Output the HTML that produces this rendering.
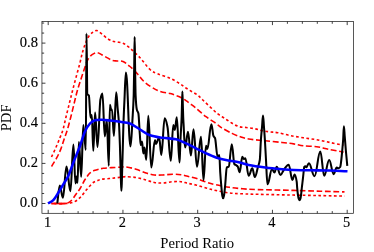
<!DOCTYPE html>
<html><head><meta charset="utf-8"><style>
html,body{margin:0;padding:0;background:#fff;}
svg{display:block;font-family:"Liberation Serif",serif;will-change:transform;opacity:0.999;}
</style></head><body>
<svg width="374" height="252" viewBox="0 0 374 252">
<rect width="374" height="252" fill="#fff"/>
<g fill="none" stroke-linecap="butt" stroke-linejoin="round">
<path d="M51.50 203.50 C53.75 203.50 61.37 203.70 65.00 203.50 C68.63 203.30 70.80 203.27 73.30 202.30 C75.80 201.33 77.77 199.83 80.00 197.70 C82.23 195.57 84.48 192.03 86.70 189.50 C88.92 186.97 91.37 184.03 93.30 182.50 C95.23 180.97 96.90 180.85 98.30 180.30 C99.70 179.75 99.47 179.53 101.70 179.20 C103.93 178.87 108.10 178.68 111.70 178.30 C115.30 177.92 120.92 177.17 123.30 176.90 C125.68 176.63 123.88 176.60 126.00 176.70 C128.12 176.80 132.67 176.95 136.00 177.50 C139.33 178.05 142.95 179.17 146.00 180.00 C149.05 180.83 151.52 182.00 154.30 182.50 C157.08 183.00 159.63 183.13 162.70 183.00 C165.77 182.87 169.65 181.92 172.70 181.70 C175.75 181.48 178.50 181.43 181.00 181.70 C183.50 181.97 185.20 182.75 187.70 183.30 C190.20 183.85 192.95 184.22 196.00 185.00 C199.05 185.78 202.67 187.08 206.00 188.00 C209.33 188.92 212.12 189.67 216.00 190.50 C219.88 191.33 224.85 192.45 229.30 193.00 C233.75 193.55 237.97 193.58 242.70 193.80 C247.43 194.02 249.82 194.10 257.70 194.30 C265.58 194.50 279.62 194.78 290.00 195.00 C300.38 195.22 310.92 195.42 320.00 195.60 C329.08 195.78 340.42 196.02 344.50 196.10" stroke="#f00" stroke-width="1.6" stroke-dasharray="2.7 2.5" stroke-dashoffset="2.5"/>
<path d="M51.50 203.50 C53.75 203.50 61.78 203.92 65.00 203.50 C68.22 203.08 69.00 202.50 70.80 201.00 C72.60 199.50 74.20 196.67 75.80 194.50 C77.40 192.33 78.92 190.42 80.40 188.00 C81.88 185.58 83.52 182.00 84.70 180.00 C85.88 178.00 86.60 177.18 87.50 176.00 C88.40 174.82 88.85 173.85 90.10 172.90 C91.35 171.95 92.80 171.07 95.00 170.30 C97.20 169.53 99.13 168.82 103.30 168.30 C107.47 167.78 116.22 167.42 120.00 167.20 C123.78 166.98 123.33 166.67 126.00 167.00 C128.67 167.33 132.67 168.20 136.00 169.20 C139.33 170.20 142.95 172.03 146.00 173.00 C149.05 173.97 151.52 174.67 154.30 175.00 C157.08 175.33 159.63 175.13 162.70 175.00 C165.77 174.87 169.65 174.25 172.70 174.20 C175.75 174.15 178.50 174.35 181.00 174.70 C183.50 175.05 185.20 175.70 187.70 176.30 C190.20 176.90 192.95 177.35 196.00 178.30 C199.05 179.25 202.67 180.92 206.00 182.00 C209.33 183.08 212.12 183.92 216.00 184.80 C219.88 185.68 224.85 186.63 229.30 187.30 C233.75 187.97 237.97 188.42 242.70 188.80 C247.43 189.18 249.82 189.35 257.70 189.60 C265.58 189.85 279.62 190.03 290.00 190.30 C300.38 190.57 310.92 190.93 320.00 191.20 C329.08 191.47 340.42 191.78 344.50 191.90" stroke="#f00" stroke-width="1.6" stroke-dasharray="5.7 2.7" stroke-dashoffset="1"/>
<path d="M51.3 203.55 H65.5" stroke="#f00" stroke-width="1.6"/>
<path d="M51.50 157.00 C52.25 155.38 54.58 150.53 56.00 147.30 C57.42 144.07 58.82 140.60 60.00 137.60 C61.18 134.60 62.10 132.73 63.10 129.30 C64.10 125.87 64.93 121.42 66.00 117.00 C67.07 112.58 68.42 107.17 69.50 102.80 C70.58 98.43 71.42 95.02 72.50 90.80 C73.58 86.58 74.78 82.05 76.00 77.50 C77.22 72.95 78.72 67.70 79.80 63.50 C80.88 59.30 81.52 55.77 82.50 52.30 C83.48 48.83 84.63 45.38 85.70 42.70 C86.77 40.02 87.70 37.95 88.90 36.20 C90.10 34.45 91.57 33.13 92.90 32.20 C94.23 31.27 95.43 30.33 96.90 30.60 C98.37 30.87 99.95 32.47 101.70 33.80 C103.45 35.13 105.65 37.40 107.40 38.60 C109.15 39.80 110.60 40.43 112.20 41.00 C113.80 41.57 115.20 41.63 117.00 42.00 C118.80 42.37 120.83 42.18 123.00 43.20 C125.17 44.22 127.17 45.68 130.00 48.10 C132.83 50.52 136.67 54.13 140.00 57.70 C143.33 61.27 147.05 66.82 150.00 69.50 C152.95 72.18 154.32 72.33 157.70 73.80 C161.08 75.27 166.53 76.60 170.30 78.30 C174.07 80.00 177.68 82.38 180.30 84.00 C182.92 85.62 184.05 86.72 186.00 88.00 C187.95 89.28 190.00 90.47 192.00 91.70 C194.00 92.93 196.20 94.02 198.00 95.40 C199.80 96.78 200.80 98.10 202.80 100.00 C204.80 101.90 207.60 104.57 210.00 106.80 C212.40 109.03 214.80 111.50 217.20 113.40 C219.60 115.30 221.98 116.60 224.40 118.20 C226.82 119.80 229.28 121.60 231.70 123.00 C234.12 124.40 236.50 125.85 238.90 126.60 C241.30 127.35 243.50 127.15 246.10 127.50 C248.70 127.85 251.85 128.18 254.50 128.70 C257.15 129.22 259.42 130.07 262.00 130.60 C264.58 131.13 267.37 131.55 270.00 131.90 C272.63 132.25 274.47 132.10 277.80 132.70 C281.13 133.30 285.75 134.65 290.00 135.50 C294.25 136.35 298.85 137.10 303.30 137.80 C307.75 138.50 312.25 138.92 316.70 139.70 C321.15 140.48 325.53 141.57 330.00 142.50 C334.47 143.43 341.25 144.83 343.50 145.30" stroke="#f00" stroke-width="1.6" stroke-dasharray="2.7 2.5"/>
<path d="M51.50 166.50 C52.38 165.03 55.23 160.63 56.80 157.70 C58.37 154.77 59.68 151.98 60.90 148.90 C62.12 145.82 63.00 142.47 64.10 139.20 C65.20 135.93 66.35 133.13 67.50 129.30 C68.65 125.47 69.87 120.62 71.00 116.20 C72.13 111.78 73.25 107.03 74.30 102.80 C75.35 98.57 76.10 95.02 77.30 90.80 C78.50 86.58 79.97 82.18 81.50 77.50 C83.03 72.82 85.27 65.97 86.50 62.70 C87.73 59.43 87.97 59.23 88.90 57.90 C89.83 56.57 90.77 55.58 92.10 54.70 C93.43 53.82 95.30 52.60 96.90 52.60 C98.50 52.60 99.95 53.82 101.70 54.70 C103.45 55.58 105.65 56.97 107.40 57.90 C109.15 58.83 110.60 59.78 112.20 60.30 C113.80 60.82 115.20 60.80 117.00 61.00 C118.80 61.20 120.83 60.58 123.00 61.50 C125.17 62.42 127.57 64.42 130.00 66.50 C132.43 68.58 135.08 71.33 137.60 74.00 C140.12 76.67 141.75 79.75 145.10 82.50 C148.45 85.25 153.50 88.65 157.70 90.50 C161.90 92.35 167.25 92.77 170.30 93.60 C173.35 94.43 174.38 94.93 176.00 95.50 C177.62 96.07 178.33 96.15 180.00 97.00 C181.67 97.85 184.33 99.50 186.00 100.60 C187.67 101.70 188.33 102.33 190.00 103.60 C191.67 104.87 193.33 106.02 196.00 108.20 C198.67 110.38 202.67 114.18 206.00 116.70 C209.33 119.22 213.50 121.52 216.00 123.30 C218.50 125.08 218.33 125.72 221.00 127.40 C223.67 129.08 228.78 131.85 232.00 133.40 C235.22 134.95 237.52 135.77 240.30 136.70 C243.08 137.63 244.53 138.32 248.70 139.00 C252.87 139.68 259.75 140.22 265.30 140.80 C270.85 141.38 277.27 141.98 282.00 142.50 C286.73 143.02 290.15 143.35 293.70 143.90 C297.25 144.45 299.47 145.33 303.30 145.80 C307.13 146.27 312.53 146.13 316.70 146.70 C320.87 147.27 324.13 148.35 328.30 149.20 C332.47 150.05 339.17 151.30 341.70 151.80 C344.23 152.30 343.20 152.13 343.50 152.20" stroke="#f00" stroke-width="1.6" stroke-dasharray="5.7 2.7"/>
<path d="M57.30 203.30 C58.13 197.37 58.80 185.50 59.80 185.50 C61.04 185.50 61.66 197.70 62.90 197.70 C64.34 197.70 65.06 166.50 66.50 166.50 C68.06 166.50 68.84 191.20 70.40 191.20 C71.60 191.20 72.20 144.50 73.40 144.50 C74.24 144.50 74.66 183.40 75.50 183.40 C75.94 183.40 76.16 176.50 76.60 176.50 C76.96 176.50 77.14 182.80 77.50 182.80 C78.06 182.80 78.34 142.00 78.90 142.00 C79.82 142.00 80.28 176.80 81.20 176.80 C82.04 176.80 82.46 125.00 83.30 125.00 C84.30 125.00 84.80 150.00 85.80 150.00 C86.08 150.00 86.22 33.60 86.50 33.60 C86.82 33.60 87.03 93.45 87.30 94.00 C87.83 95.11 88.37 94.58 88.90 95.50 C89.47 96.48 89.92 117.70 90.60 117.70 C91.08 117.70 91.32 115.00 91.80 115.00 C92.40 115.00 92.70 150.80 93.30 150.80 C94.02 150.80 94.38 112.50 95.10 112.50 C96.06 112.50 96.54 147.00 97.50 147.00 C98.66 147.00 99.43 104.14 100.40 99.50 C101.07 96.30 101.60 93.60 102.40 93.60 C103.36 93.60 103.84 136.50 104.80 136.50 C105.60 136.50 106.00 120.00 106.80 120.00 C107.60 120.00 108.00 165.80 108.80 165.80 C109.24 165.80 109.46 104.70 109.90 104.70 C110.42 104.70 110.68 110.00 111.20 110.00 C111.52 110.00 111.68 109.40 112.00 109.40 C112.76 109.40 113.14 135.90 113.90 135.90 C114.82 135.90 115.28 92.20 116.20 92.20 C116.76 92.20 117.13 102.70 117.60 108.00 C118.07 113.30 118.53 116.66 119.00 124.00 C119.30 128.72 119.60 136.67 119.90 145.00 C120.10 150.56 120.30 157.91 120.50 165.00 C120.63 169.72 120.77 176.31 120.90 180.00 C121.07 184.61 121.20 190.80 121.40 190.80 C121.60 190.80 121.73 184.61 121.90 180.00 C122.03 176.31 122.17 169.76 122.30 165.00 C122.47 159.05 122.63 154.00 122.80 148.00 C123.00 140.81 123.20 130.95 123.40 125.00 C123.77 114.10 124.13 107.06 124.50 99.30 C124.97 89.42 125.34 72.40 125.90 72.40 C127.74 72.40 128.66 146.50 130.50 146.50 C131.30 146.50 131.83 130.03 132.50 119.00 C132.90 112.38 133.30 107.55 133.70 95.00 C133.88 89.25 134.07 75.32 134.25 64.00 C134.38 55.77 134.49 37.00 134.65 37.00 C134.81 37.00 134.92 55.77 135.05 64.00 C135.23 75.32 135.42 91.03 135.60 95.00 C136.00 103.65 136.40 107.79 136.80 109.50 C137.33 111.78 137.87 111.19 138.40 113.50 C138.87 115.52 139.33 128.18 139.80 134.00 C140.13 138.15 140.40 145.00 140.80 145.00 C141.28 145.00 141.52 141.50 142.00 141.50 C142.56 141.50 142.84 153.50 143.40 153.50 C143.84 153.50 144.06 147.50 144.50 147.50 C145.22 147.50 145.58 159.80 146.30 159.80 C147.10 159.80 147.50 115.80 148.30 115.80 C149.50 115.80 150.10 167.50 151.30 167.50 C152.78 167.50 153.52 140.00 155.00 140.00 C155.32 140.00 155.48 144.00 155.80 144.00 C157.16 144.00 157.84 137.50 159.20 137.50 C160.04 137.50 160.46 155.00 161.30 155.00 C162.66 155.00 163.34 118.30 164.70 118.30 C165.82 118.30 166.57 122.61 167.50 127.00 C168.60 132.17 169.48 160.80 170.80 160.80 C171.80 160.80 172.30 125.00 173.30 125.00 C173.90 125.00 174.20 130.00 174.80 130.00 C175.60 130.00 176.00 117.30 176.80 117.30 C177.88 117.30 178.42 162.50 179.50 162.50 C179.74 162.50 179.90 154.64 180.10 150.00 C180.27 146.13 180.43 140.51 180.60 137.00 C180.80 132.79 181.00 130.34 181.20 126.50 C181.35 123.62 181.50 121.08 181.65 117.00 C181.77 113.82 181.88 107.97 182.00 104.00 C182.13 99.47 182.24 91.50 182.40 91.50 C182.56 91.50 182.67 99.75 182.80 104.00 C182.93 108.25 183.07 113.77 183.20 117.00 C183.37 121.04 183.53 123.17 183.70 126.50 C183.87 129.82 184.03 134.58 184.20 137.00 C184.53 141.85 184.80 147.50 185.20 147.50 C186.32 147.50 186.88 131.70 188.00 131.70 C189.16 131.70 189.74 155.50 190.90 155.50 C191.94 155.50 192.46 129.20 193.50 129.20 C194.90 129.20 195.60 166.70 197.00 166.70 C198.60 166.70 199.40 136.70 201.00 136.70 C202.00 136.70 202.50 180.00 203.50 180.00 C204.50 180.00 205.00 145.80 206.00 145.80 C206.52 145.80 206.78 149.00 207.30 149.00 C208.94 149.00 209.76 124.20 211.40 124.20 C212.20 124.20 212.73 134.35 213.40 135.80 C213.93 136.96 214.47 136.84 215.00 138.00 C215.90 139.96 216.62 157.00 217.70 157.00 C218.34 157.00 218.66 155.00 219.30 155.00 C219.66 155.00 219.90 167.44 220.20 172.00 C220.60 178.08 221.00 182.59 221.40 187.00 C221.67 189.94 221.93 193.56 222.20 195.00 C222.50 196.62 222.74 198.30 223.10 198.30 C223.50 198.30 223.77 196.61 224.10 195.00 C224.43 193.39 224.77 189.26 225.10 186.00 C225.67 180.46 226.23 168.06 226.80 167.50 C227.47 166.85 228.13 167.09 228.80 166.50 C229.80 165.61 230.60 144.20 231.80 144.20 C232.80 144.20 233.47 163.00 234.30 164.00 C235.00 164.84 235.70 164.87 236.40 165.40 C236.87 165.75 237.33 166.00 237.80 166.60 C238.43 167.42 238.94 172.20 239.70 172.20 C240.74 172.20 241.26 156.70 242.30 156.70 C242.86 156.70 243.14 159.00 243.70 159.00 C244.34 159.00 244.66 158.30 245.30 158.30 C246.66 158.30 247.34 175.80 248.70 175.80 C250.14 175.80 250.86 168.30 252.30 168.30 C253.30 168.30 253.80 177.00 254.80 177.00 C256.00 177.00 256.80 170.95 257.80 167.50 C258.47 165.20 259.13 164.43 259.80 160.00 C260.17 157.57 260.53 145.23 260.90 140.00 C261.30 134.30 261.70 130.67 262.10 126.00 C262.40 122.50 262.64 115.50 263.00 115.50 C263.36 115.50 263.60 122.19 263.90 126.00 C264.23 130.24 264.57 134.74 264.90 140.00 C265.27 145.79 265.63 153.70 266.00 160.00 C266.50 168.59 266.90 184.30 267.50 184.30 C269.30 184.30 270.20 169.20 272.00 169.20 C273.00 169.20 273.50 172.50 274.50 172.50 C275.38 172.50 275.82 166.70 276.70 166.70 C278.22 166.70 278.98 175.00 280.50 175.00 C281.78 175.00 282.63 171.37 283.70 170.00 C285.37 167.86 286.70 164.70 288.70 164.70 C290.18 164.70 290.92 180.00 292.40 180.00 C293.28 180.00 293.72 174.50 294.60 174.50 C295.44 174.50 296.00 177.42 296.70 181.70 C296.87 182.72 297.03 186.20 297.20 188.00 C297.43 190.52 297.67 192.95 297.90 194.50 C298.17 196.27 298.43 197.89 298.70 198.60 C299.00 199.40 299.24 200.20 299.60 200.20 C299.92 200.20 300.13 199.40 300.40 198.60 C300.63 197.90 300.87 196.18 301.10 194.50 C301.33 192.82 301.57 190.05 301.80 188.00 C302.00 186.25 302.20 184.71 302.40 183.00 C302.67 180.73 302.93 178.26 303.20 176.00 C303.57 172.89 303.93 167.47 304.30 167.00 C304.63 166.58 304.90 166.30 305.30 166.30 C305.70 166.30 305.90 167.30 306.30 167.30 C307.34 167.30 307.86 163.20 308.90 163.20 C311.14 163.20 312.26 176.20 314.50 176.20 C316.82 176.20 317.98 151.50 320.30 151.50 C321.86 151.50 322.64 175.80 324.20 175.80 C326.20 175.80 327.20 160.00 329.20 160.00 C331.00 160.00 331.90 174.20 333.70 174.20 C334.90 174.20 335.50 167.50 336.70 167.50 C337.34 167.50 337.66 168.30 338.30 168.30 C339.06 168.30 339.57 167.84 340.20 167.00 C340.57 166.51 340.93 162.87 341.30 160.00 C341.60 157.65 341.90 154.27 342.20 151.00 C342.53 147.37 342.87 143.86 343.20 139.00 C343.43 135.60 343.62 126.40 343.90 126.40 C344.22 126.40 344.43 132.74 344.70 136.00 C345.10 140.89 345.50 146.41 345.90 151.00 C346.37 156.36 346.83 160.87 347.30 165.80" stroke="#000" stroke-width="2.05"/>
<path d="M48.00 203.30 C48.88 202.78 51.58 201.97 53.30 200.20 C55.02 198.43 56.63 195.35 58.30 192.70 C59.97 190.05 61.63 187.08 63.30 184.30 C64.97 181.52 66.52 179.88 68.30 176.00 C70.08 172.12 72.05 166.00 74.00 161.00 C75.95 156.00 78.17 150.92 80.00 146.00 C81.83 141.08 83.33 135.25 85.00 131.50 C86.67 127.75 88.33 125.37 90.00 123.50 C91.67 121.63 93.05 120.92 95.00 120.30 C96.95 119.68 99.20 119.77 101.70 119.80 C104.20 119.83 106.95 120.17 110.00 120.50 C113.05 120.83 116.67 121.30 120.00 121.80 C123.33 122.30 126.67 122.22 130.00 123.50 C133.33 124.78 136.67 127.53 140.00 129.50 C143.33 131.47 146.22 133.92 150.00 135.30 C153.78 136.68 158.37 137.13 162.70 137.80 C167.03 138.47 172.12 138.38 176.00 139.30 C179.88 140.22 182.67 141.80 186.00 143.30 C189.33 144.80 192.67 146.63 196.00 148.30 C199.33 149.97 202.67 151.77 206.00 153.30 C209.33 154.83 212.67 156.38 216.00 157.50 C219.33 158.62 222.38 159.25 226.00 160.00 C229.62 160.75 233.92 161.17 237.70 162.00 C241.48 162.83 244.10 164.08 248.70 165.00 C253.30 165.92 259.75 166.80 265.30 167.50 C270.85 168.20 277.27 168.78 282.00 169.20 C286.73 169.62 289.03 169.82 293.70 170.00 C298.37 170.18 303.95 170.20 310.00 170.30 C316.05 170.40 323.75 170.43 330.00 170.60 C336.25 170.77 344.58 171.18 347.50 171.30" stroke="#00f" stroke-width="2.55"/>
</g>
<rect x="41.95" y="21.60" width="311.55" height="191.70" fill="none" stroke="#111" stroke-width="0.7"/>
<path d="M48.20 213.30 v-3.50 M48.20 21.60 v3.50 M63.15 213.30 v-2.20 M63.15 21.60 v2.20 M78.10 213.30 v-2.20 M78.10 21.60 v2.20 M93.05 213.30 v-2.20 M93.05 21.60 v2.20 M108.00 213.30 v-2.20 M108.00 21.60 v2.20 M122.95 213.30 v-3.50 M122.95 21.60 v3.50 M137.90 213.30 v-2.20 M137.90 21.60 v2.20 M152.85 213.30 v-2.20 M152.85 21.60 v2.20 M167.80 213.30 v-2.20 M167.80 21.60 v2.20 M182.75 213.30 v-2.20 M182.75 21.60 v2.20 M197.70 213.30 v-3.50 M197.70 21.60 v3.50 M212.65 213.30 v-2.20 M212.65 21.60 v2.20 M227.60 213.30 v-2.20 M227.60 21.60 v2.20 M242.55 213.30 v-2.20 M242.55 21.60 v2.20 M257.50 213.30 v-2.20 M257.50 21.60 v2.20 M272.45 213.30 v-3.50 M272.45 21.60 v3.50 M287.40 213.30 v-2.20 M287.40 21.60 v2.20 M302.35 213.30 v-2.20 M302.35 21.60 v2.20 M317.30 213.30 v-2.20 M317.30 21.60 v2.20 M332.25 213.30 v-2.20 M332.25 21.60 v2.20 M347.20 213.30 v-3.50 M347.20 21.60 v3.50 M41.95 203.50 h3.50 M41.95 193.47 h2.20 M41.95 183.45 h2.20 M41.95 173.43 h2.20 M41.95 163.40 h3.50 M41.95 153.38 h2.20 M41.95 143.35 h2.20 M41.95 133.32 h2.20 M41.95 123.30 h3.50 M41.95 113.27 h2.20 M41.95 103.25 h2.20 M41.95 93.22 h2.20 M41.95 83.20 h3.50 M41.95 73.17 h2.20 M41.95 63.15 h2.20 M41.95 53.12 h2.20 M41.95 43.10 h3.50 M41.95 33.07 h2.20 M41.95 23.05 h2.20" stroke="#000" stroke-width="0.75" fill="none"/>
<g font-size="15.3px" fill="#000" stroke="#000" stroke-width="0.15"><text x="38" y="207.40" text-anchor="end" textLength="18.2" lengthAdjust="spacingAndGlyphs">0.0</text><text x="38" y="167.30" text-anchor="end" textLength="18.2" lengthAdjust="spacingAndGlyphs">0.2</text><text x="38" y="127.20" text-anchor="end" textLength="18.2" lengthAdjust="spacingAndGlyphs">0.4</text><text x="38" y="87.10" text-anchor="end" textLength="18.2" lengthAdjust="spacingAndGlyphs">0.6</text><text x="38" y="47.00" text-anchor="end" textLength="18.2" lengthAdjust="spacingAndGlyphs">0.8</text><text x="47.60" y="227.1" text-anchor="middle" textLength="7.2" lengthAdjust="spacingAndGlyphs">1</text><text x="122.35" y="227.1" text-anchor="middle" textLength="7.2" lengthAdjust="spacingAndGlyphs">2</text><text x="197.10" y="227.1" text-anchor="middle" textLength="7.2" lengthAdjust="spacingAndGlyphs">3</text><text x="271.85" y="227.1" text-anchor="middle" textLength="7.2" lengthAdjust="spacingAndGlyphs">4</text><text x="346.60" y="227.1" text-anchor="middle" textLength="7.2" lengthAdjust="spacingAndGlyphs">5</text></g>
<text x="197.2" y="247.9" font-size="15px" text-anchor="middle" textLength="73.7" lengthAdjust="spacingAndGlyphs">Period Ratio</text>
<text transform="translate(10.6,117.9) rotate(-90)" font-size="15px" text-anchor="middle" textLength="26.9" lengthAdjust="spacingAndGlyphs">PDF</text>
</svg>
</body></html>
